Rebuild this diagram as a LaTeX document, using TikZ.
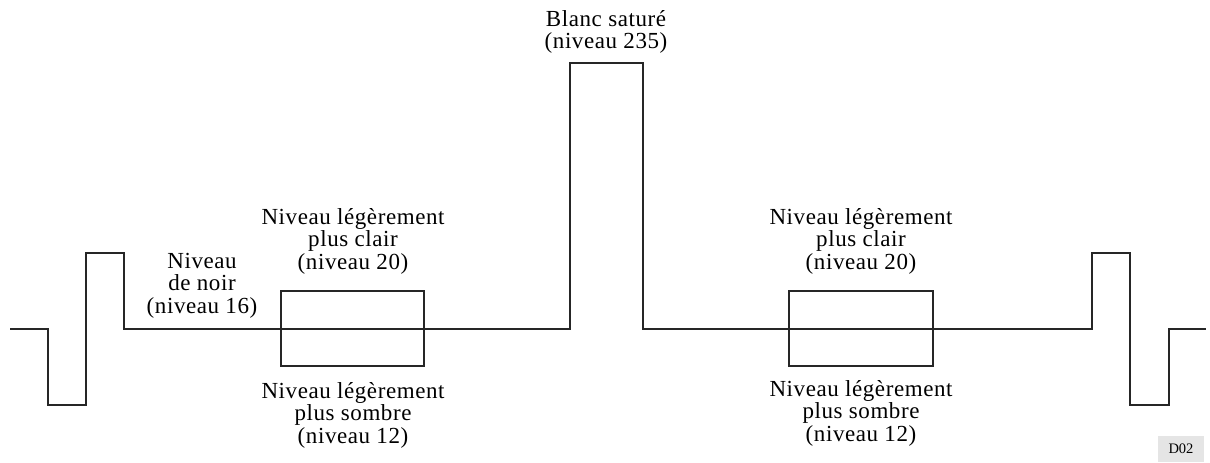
\documentclass[tikz,border=0pt]{standalone}
\usepackage{fontspec}
\setmainfont{Liberation Serif}[LetterSpace=2.5]
\newfontfamily\tagfont{Liberation Serif}
\begin{document}
\begin{tikzpicture}[x=1pt,y=-1pt,
  wave/.style={line width=1.3pt,draw=black!85,line join=miter},
  lbl/.style={align=center,inner sep=0pt,anchor=north,font=\fontsize{23}{22.5}\selectfont},
  tagbox/.style={fill=black!10,draw=none,minimum width=46pt,minimum height=26pt,inner sep=0pt,font=\tagfont\fontsize{14.5}{15}\selectfont}]
\useasboundingbox (0,0) rectangle (1210,463);
% waveform
\draw[wave] (10,329) -- (48,329) -- (48,405) -- (86,405) -- (86,253) -- (124,253) -- (124,329)
  -- (570,329) -- (570,63) -- (643,63) -- (643,329) -- (1092,329) -- (1092,253) -- (1130,253)
  -- (1130,405) -- (1169,405) -- (1169,329) -- (1206,329);
% level boxes
\draw[wave] (281,291) rectangle (424,366);
\draw[wave] (789,291) rectangle (933,366);
% labels
\node[lbl] (blanc) at (606,10) {Blanc saturé\\(niveau 235)};
\node[lbl] (noir) at (202,253) {Niveau\\de noir\\(niveau 16)};
\node[lbl] (clairL) at (353,208) {Niveau légèrement\\plus clair\\(niveau 20)};
\node[lbl] (sombreL) at (353,382) {Niveau légèrement\\plus sombre\\(niveau 12)};
\node[lbl] (clairR) at (861,208) {Niveau légèrement\\plus clair\\(niveau 20)};
\node[lbl] (sombreR) at (861,380) {Niveau légèrement\\plus sombre\\(niveau 12)};
\node[tagbox] (tag) at (1181,449) {D02};
\end{tikzpicture}
\end{document}
